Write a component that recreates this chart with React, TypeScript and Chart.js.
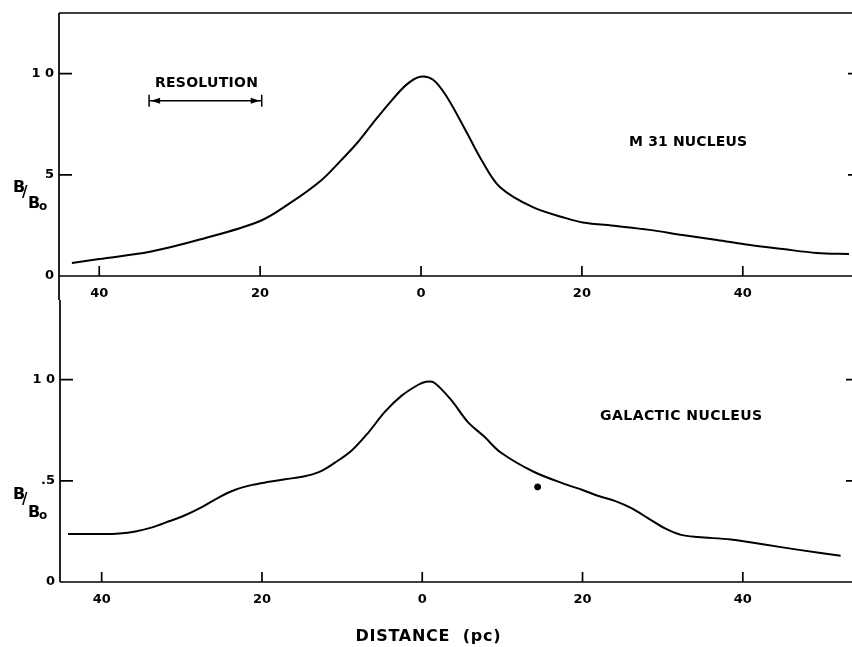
import React, { useEffect, useRef } from 'react';
import { Chart, registerables } from 'chart.js';
Chart.register(...registerables);

// ---- data ----
const xTickValues = [-40, -20, 0, 20, 40];
const xTickLabels = ['40', '20', '0', '20', '40'];
const yTickValues = [0, 0.5, 1.0];
const topYTickLabels = ['0', '5', '1 0'];
const bottomYTickLabels = ['0', '.5', '1 0'];

const m31X = [-43.4, -40, -33.7, -27.5, -20, -16.3, -12.5, -10.1, -8.0, -6.0, -3.9, -1.8, -0.1, 1.5, 3.2, 5.7, 7.5, 9.8, 13.9, 18.1, 20.1, 24.3, 28.4, 32.5, 36.8, 40.9, 45, 49.2, 53.2];
const m31Y = [0.064, 0.084, 0.12, 0.18, 0.272, 0.36, 0.47, 0.565, 0.655, 0.755, 0.856, 0.946, 0.985, 0.97, 0.886, 0.708, 0.575, 0.44, 0.34, 0.285, 0.265, 0.247, 0.228, 0.203, 0.178, 0.153, 0.133, 0.114, 0.109];

const galX = [-44.2, -40, -37.8, -35.8, -33.7, -31.6, -29.6, -27.5, -25.3, -23.4, -21.2, -19.1, -17.1, -15, -12.9, -10.9, -8.8, -6.7, -4.7, -2.6, -0.5, 0.5, 1.5, 3.6, 5.7, 7.7, 9.8, 13.9, 18.1, 20, 22, 24.1, 26.1, 28.2, 30.3, 32.3, 34.4, 38.5, 42.7, 46.8, 52.2];
const galY = [0.237, 0.237, 0.24, 0.25, 0.27, 0.3, 0.33, 0.37, 0.42, 0.455, 0.48, 0.495, 0.508, 0.52, 0.543, 0.59, 0.65, 0.74, 0.84, 0.92, 0.975, 0.99, 0.985, 0.9, 0.79, 0.72, 0.64, 0.545, 0.48, 0.455, 0.425, 0.4, 0.365, 0.315, 0.265, 0.233, 0.222, 0.21, 0.185, 0.16, 0.13];

const dotX = [14.4];
const dotY = [0.47];

const resolutionRange = [-33.8, -19.8];
const resolutionLevel = 0.866;

const FONT = 'DejaVu Sans';

function pts(xs: number[], ys: number[]) {
  return xs.map((x, i) => ({ x, y: ys[i] }));
}

function spacedText(ctx: any, text: string, cx: number, cy: number, font: string, target: number) {
  ctx.font = font;
  ctx.letterSpacing = '0px';
  const w0 = ctx.measureText(text).width;
  const ls = Math.max(0, (target - w0) / Math.max(1, text.length - 1));
  ctx.letterSpacing = ls + 'px';
  ctx.textAlign = 'left';
  ctx.textBaseline = 'middle';
  ctx.fillText(text, cx - target / 2, cy);
  ctx.letterSpacing = '0px';
}

function makeDecor(cfg: any) {
  return {
    id: 'decor',
    afterDraw(chart: any) {
      const { ctx, chartArea: a, scales } = chart;
      const x = scales.x, y = scales.y;
      ctx.save();
      ctx.strokeStyle = '#000';
      ctx.fillStyle = '#000';
      ctx.lineWidth = 1.7;
      ctx.beginPath();
      const lt = cfg.panel === 'top' ? a.top : 0;
      const lb = cfg.panel === 'top' ? chart.height : a.bottom;
      ctx.moveTo(a.left, lt);
      ctx.lineTo(a.left, lb);
      ctx.moveTo(a.left, a.bottom);
      ctx.lineTo(chart.width, a.bottom);
      if (cfg.panel === 'top') {
        ctx.moveTo(a.left, a.top);
        ctx.lineTo(chart.width, a.top);
      }
      x.ticks.forEach((t: any, i: number) => {
        const px = x.getPixelForTick(i);
        ctx.moveTo(px, a.bottom);
        ctx.lineTo(px, a.bottom - 10);
      });
      y.ticks.forEach((t: any, i: number) => {
        if (t.value === 0) return;
        const py = y.getPixelForTick(i);
        ctx.moveTo(a.left, py);
        ctx.lineTo(a.left + 13, py);
        ctx.moveTo(chart.width, py);
        ctx.lineTo(a.right - 1, py);
      });
      ctx.stroke();

      // B/Bo label
      const by = cfg.bBase;
      ctx.textAlign = 'left';
      ctx.textBaseline = 'alphabetic';
      ctx.font = `bold 16px "${FONT}"`;
      ctx.fillText('B', 13, by);
      ctx.font = `bold 15px "${FONT}"`;
      ctx.fillText('/', 22, by + 5);
      ctx.font = `bold 16px "${FONT}"`;
      ctx.fillText('B', 28, by + cfg.bDrop);
      ctx.font = `bold 12px "${FONT}"`;
      ctx.fillText('o', 39, by + cfg.bDrop + 2);

      // panel label
      spacedText(ctx, cfg.label, x.getPixelForValue(cfg.labelX), y.getPixelForValue(cfg.labelY), `bold 14px "${FONT}"`, cfg.labelWidth);

      if (cfg.panel === 'top') {
        const x1 = x.getPixelForValue(resolutionRange[0]);
        const x2 = x.getPixelForValue(resolutionRange[1]);
        const py = y.getPixelForValue(resolutionLevel);
        spacedText(ctx, 'RESOLUTION', (x1 + x2) / 2 + 1, y.getPixelForValue(0.95), `bold 14px "${FONT}"`, 103);
        ctx.lineWidth = 1.5;
        ctx.beginPath();
        ctx.moveTo(x1, py); ctx.lineTo(x2, py);
        ctx.moveTo(x1, py - 6); ctx.lineTo(x1, py + 6);
        ctx.moveTo(x2, py - 6); ctx.lineTo(x2, py + 6);
        ctx.stroke();
        ctx.beginPath();
        ctx.moveTo(x1 + 2, py); ctx.lineTo(x1 + 11, py - 3); ctx.lineTo(x1 + 11, py + 3); ctx.closePath();
        ctx.moveTo(x2 - 2, py); ctx.lineTo(x2 - 11, py - 3); ctx.lineTo(x2 - 11, py + 3); ctx.closePath();
        ctx.fill();
      } else {
        spacedText(ctx, 'DISTANCE  (pc)', 428, chart.height - 10, `bold 16px "${FONT}"`, 145);
      }
      ctx.restore();
    },
  };
}

function makeConfig(panel: 'top' | 'bottom'): any {
  const isTop = panel === 'top';
  const yLabels = isTop ? topYTickLabels : bottomYTickLabels;
  const datasets: any[] = [
    {
      type: 'line',
      data: isTop ? pts(m31X, m31Y) : pts(galX, galY),
      borderColor: '#000',
      borderWidth: 2,
      pointRadius: 0,
      tension: 0.35,
      fill: false,
    },
  ];
  if (!isTop) {
    datasets.push({
      type: 'scatter',
      data: pts(dotX, dotY),
      pointRadius: 3,
      backgroundColor: '#000',
      borderColor: '#000',
    });
  }
  return {
    type: 'line',
    data: { datasets },
    options: {
      responsive: false,
      animation: false,
      layout: { padding: { top: isTop ? 13 : 19, right: 3, left: 0, bottom: 0 } },
      plugins: { legend: { display: false }, tooltip: { enabled: false } },
      scales: {
        x: {
          type: 'linear',
          min: isTop ? -45 : -45.2,
          max: isTop ? 53.2 : 53,
          grid: { display: false, drawTicks: false },
          border: { display: false },
          afterBuildTicks: (s: any) => { s.ticks = xTickValues.map((v) => ({ value: v })); },
          afterFit: (s: any) => { s.height = isTop ? 24 : 65; },
          ticks: {
            color: '#000',
            padding: 10,
            maxRotation: 0,
            font: { family: FONT, size: 13, weight: 'bold' },
            callback: (_v: any, i: number) => xTickLabels[i],
          },
        },
        y: {
          type: 'linear',
          min: 0,
          max: 1.3,
          grid: { display: false, drawTicks: false },
          border: { display: false },
          afterBuildTicks: (s: any) => { s.ticks = yTickValues.map((v) => ({ value: v })); },
          afterFit: (s: any) => { s.width = isTop ? 59 : 60; },
          ticks: {
            color: '#000',
            padding: 5,
            font: { family: FONT, size: 13, weight: 'bold' },
            callback: (_v: any, i: number) => yLabels[i],
          },
        },
      },
    },
    plugins: [
      makeDecor(
        isTop
          ? { panel: 'top', bBase: 192, bDrop: 16, label: 'M 31 NUCLEUS', labelX: 33.2, labelY: 0.66, labelWidth: 118 }
          : { panel: 'bottom', bBase: 199, bDrop: 18, label: 'GALACTIC NUCLEUS', labelX: 32.3, labelY: 0.82, labelWidth: 162 }
      ),
    ],
  };
}

export default function App() {
  const topRef = useRef<HTMLCanvasElement>(null);
  const botRef = useRef<HTMLCanvasElement>(null);
  useEffect(() => {
    const c1 = new Chart(topRef.current as HTMLCanvasElement, makeConfig('top'));
    const c2 = new Chart(botRef.current as HTMLCanvasElement, makeConfig('bottom'));
    return () => {
      c1.destroy();
      c2.destroy();
    };
  }, []);
  return (
    <div style={{ position: 'fixed', left: 0, top: 0, width: 852, height: 647, background: '#fff' }}>
      <canvas ref={topRef} width={852} height={300} style={{ position: 'absolute', left: 0, top: 0 }} />
      <canvas ref={botRef} width={852} height={347} style={{ position: 'absolute', left: 0, top: 300 }} />
    </div>
  );
}
